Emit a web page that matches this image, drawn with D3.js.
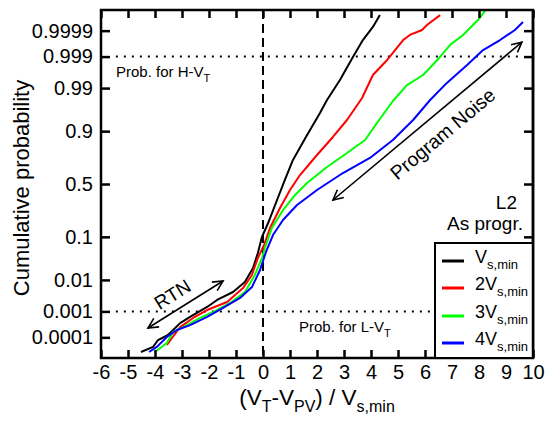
<!DOCTYPE html>
<html>
<head>
<meta charset="utf-8">
<script src="https://cdn.jsdelivr.net/npm/d3@7"></script>
<style>
  html, body { margin: 0; padding: 0; background: #fff; }
  svg { display: block; font-family: "Liberation Sans", Arial, sans-serif; }
</style>
</head>
<body>
<svg id="chart" width="559" height="422"></svg>
<script>
// ---- axis ticks ----
const xTickValues = [-6, -5, -4, -3, -2, -1, 0, 1, 2, 3, 4, 5, 6, 7, 8, 9, 10];
const probTicks = [0.0001, 0.001, 0.01, 0.1, 0.5, 0.9, 0.99, 0.999, 0.9999];
const probTickLabels = ["0.0001", "0.001", "0.01", "0.1", "0.5", "0.9", "0.99", "0.999", "0.9999"];

// ---- series: (V_T - V_PV)/V_s,min vs cumulative probability ----
const seriesPrefix = ["", "2", "3", "4"];
const seriesColors = ["#000000", "#ff0000", "#00ff00", "#0000ff"];

const v1X = [-4.52, -4.07, -3.89, -3.52, -3.07, -2.70, -2.07, -1.70, -1.11, -0.67, -0.37, -0.19, -0.04, 0.19, 0.52, 0.81, 1.11, 1.59, 2.11, 2.37, 2.85, 3.33, 3.70, 4.07, 4.33];
const v1P = [2.3e-5, 3.9e-5, 7.7e-5, 1.25e-4, 3.7e-4, 6.3e-4, 1.43e-3, 2.46e-3, 4.4e-3, 8.7e-3, 0.0208, 0.0471, 0.0994, 0.172, 0.349, 0.539, 0.720, 0.873, 0.9575, 0.9792, 0.99417, 0.99897, 0.99976, 0.99993, 0.999979];

const v2X = [-3.56, -3.37, -3.07, -2.59, -2.07, -1.33, -0.74, -0.41, -0.19, 0.04, 0.26, 0.63, 1.00, 1.37, 2.00, 2.59, 3.11, 3.67, 4.07, 4.59, 4.81, 5.19, 5.44, 5.89, 6.07, 6.56];
const v2P = [4.7e-5, 9.4e-5, 2.6e-4, 5.8e-4, 1.12e-3, 2.1e-3, 5.8e-3, 0.0137, 0.0363, 0.0694, 0.143, 0.280, 0.442, 0.586, 0.759, 0.873, 0.9397, 0.9815, 0.9959, 0.99866, 0.99926, 0.99976, 0.99985, 0.999906, 0.999942, 0.999979];

const v3X = [-4.00, -3.56, -3.33, -2.81, -2.33, -1.85, -1.22, -0.67, -0.30, -0.04, 0.07, 0.33, 0.74, 1.19, 1.63, 2.37, 3.11, 3.78, 4.30, 4.81, 5.33, 5.93, 6.56, 6.93, 7.41, 7.96, 8.30];
const v3P = [2.3e-5, 5.8e-5, 1.65e-4, 3.1e-4, 5.8e-4, 9.5e-4, 1.95e-3, 4.4e-3, 0.0137, 0.0363, 0.0604, 0.143, 0.264, 0.395, 0.510, 0.660, 0.774, 0.857, 0.9397, 0.9779, 0.9918, 0.9959, 0.99897, 0.99963, 0.99985, 0.999965, 0.99999];

const v4X = [-4.22, -3.93, -3.56, -3.19, -2.70, -2.07, -1.48, -0.85, -0.41, -0.11, 0.11, 0.37, 0.74, 1.26, 2.00, 2.96, 3.96, 4.81, 5.56, 6.19, 6.81, 7.56, 8.15, 8.78, 9.33, 9.63];
const v4P = [2.3e-5, 3.9e-5, 1.03e-4, 2.0e-4, 3.1e-4, 6.3e-4, 1.34e-3, 2.85e-3, 6.2e-3, 0.0185, 0.0496, 0.108, 0.191, 0.305, 0.442, 0.605, 0.736, 0.857, 0.9397, 0.9792, 0.9929, 0.99805, 0.99942, 0.99976, 0.999906, 0.999957];

const seriesX = [v1X, v2X, v3X, v4X];
const seriesP = [v1P, v2P, v3P, v4P];

// reference probability levels (dotted guides)
const highLevel = 0.999;
const lowLevel = 0.001;

// inverse standard normal CDF (Acklam's rational approximation)
function probit(p) {
  const a = [-3.969683028665376e+01, 2.209460984245205e+02, -2.759285104469687e+02, 1.383577518672690e+02, -3.066479806614716e+01, 2.506628277459239e+00];
  const b = [-5.447609879822406e+01, 1.615858368580409e+02, -1.556989798598866e+02, 6.680131188771972e+01, -1.328068155288572e+01];
  const c = [-7.784894002430293e-03, -3.223964580411365e-01, -2.400758277161838e+00, -2.549671010366296e+00, 4.374664141464968e+00, 2.938163982698783e+00];
  const d = [7.784695709041462e-03, 3.224671290700398e-01, 2.445134137142996e+00, 3.754408661907416e+00];
  const pl = 0.02425;
  let q, r;
  if (p < pl) {
    q = Math.sqrt(-2 * Math.log(p));
    return (((((c[0]*q+c[1])*q+c[2])*q+c[3])*q+c[4])*q+c[5]) / ((((d[0]*q+d[1])*q+d[2])*q+d[3])*q+1);
  }
  if (p > 1 - pl) {
    q = Math.sqrt(-2 * Math.log(1 - p));
    return -(((((c[0]*q+c[1])*q+c[2])*q+c[3])*q+c[4])*q+c[5]) / ((((d[0]*q+d[1])*q+d[2])*q+d[3])*q+1);
  }
  q = p - 0.5; r = q * q;
  return (((((a[0]*r+a[1])*r+a[2])*r+a[3])*r+a[4])*r+a[5])*q / (((((b[0]*r+b[1])*r+b[2])*r+b[3])*r+b[4])*r+1);
}

// ---- layout ----
const L = 101, R = 533, T = 10, B = 358;
const svg = d3.select("#chart");

const x = d3.scaleLinear().domain([-6, 10]).range([L, R]);
const z = d3.scaleLinear().domain([-4.22, 4.22]).range([B, T]);
const yP = p => z(probit(p));

const defs = svg.append("defs");
defs.append("clipPath").attr("id", "plotClip")
  .append("rect").attr("x", L).attr("y", T).attr("width", R - L).attr("height", B - T);

defs.append("marker")
  .attr("id", "head")
  .attr("viewBox", "-12 -7 14 14")
  .attr("refX", 0).attr("refY", 0)
  .attr("markerWidth", 14).attr("markerHeight", 14)
  .attr("markerUnits", "userSpaceOnUse")
  .attr("orient", "auto-start-reverse")
  .append("path")
  .attr("d", "M-10,-5 L0,0 L-10,5")
  .attr("fill", "none").attr("stroke", "#000").attr("stroke-width", 1.6);

// ---- guides ----
svg.append("line")
  .attr("x1", x(0)).attr("x2", x(0)).attr("y1", T).attr("y2", B)
  .attr("stroke", "#000").attr("stroke-width", 2).attr("stroke-dasharray", "9,5");

[highLevel, lowLevel].forEach(lv => {
  svg.append("line")
    .attr("x1", x(-5.45)).attr("x2", x(9.6))
    .attr("y1", yP(lv)).attr("y2", yP(lv))
    .attr("stroke", "#000").attr("stroke-width", 2).attr("stroke-dasharray", "2,6");
});

// ---- curves ----
const line = d3.line().x(d => x(d[0])).y(d => yP(d[1]));
const curves = svg.append("g").attr("clip-path", "url(#plotClip)");
seriesX.forEach((xs, i) => {
  const pts = xs.map((v, k) => [v, seriesP[i][k]]);
  curves.append("path")
    .attr("d", line(pts))
    .attr("fill", "none")
    .attr("stroke", seriesColors[i])
    .attr("stroke-width", 2)
    .attr("stroke-linejoin", "round");
});

// ---- axes ----
const tickFont = 20;
function styleAxis(g) {
  g.select(".domain").remove();
  g.selectAll(".tick line").attr("stroke", "#000").attr("stroke-width", 2.5);
  g.selectAll(".tick text").attr("fill", "#000").attr("font-size", tickFont)
    .attr("font-family", "'Liberation Sans', Arial, sans-serif");
}

svg.append("g").attr("transform", `translate(0,${B})`)
  .call(d3.axisBottom(x).tickValues(xTickValues).tickFormat(d => String(d))
    .tickSizeInner(-8).tickSizeOuter(0).tickPadding(7))
  .call(styleAxis);

svg.append("g").attr("transform", `translate(0,${T})`)
  .call(d3.axisTop(x).tickValues(xTickValues).tickFormat("")
    .tickSizeInner(-8).tickSizeOuter(0))
  .call(styleAxis);

svg.append("g").attr("transform", `translate(${L},0)`)
  .call(d3.axisLeft(z).tickValues(probTicks.map(probit)).tickFormat((d, i) => probTickLabels[i])
    .tickSizeInner(-9).tickSizeOuter(0).tickPadding(8))
  .call(styleAxis);

svg.append("g").attr("transform", `translate(${R},0)`)
  .call(d3.axisRight(z).tickValues(probTicks.map(probit)).tickFormat("")
    .tickSizeInner(-9).tickSizeOuter(0))
  .call(styleAxis);

// frame
svg.append("rect")
  .attr("x", L).attr("y", T).attr("width", R - L).attr("height", B - T)
  .attr("fill", "none").attr("stroke", "#000").attr("stroke-width", 2.5);

// ---- axis titles ----
const xt = svg.append("text")
  .attr("x", (L + R) / 2).attr("y", 405)
  .attr("text-anchor", "middle").attr("font-size", 22.5).attr("fill", "#000");
xt.append("tspan").text("(V");
xt.append("tspan").attr("font-size", 16).attr("dy", 7).text("T");
xt.append("tspan").attr("dy", -7).text("-V");
xt.append("tspan").attr("font-size", 16).attr("dy", 7).text("PV");
xt.append("tspan").attr("dy", -7).text(") / V");
xt.append("tspan").attr("font-size", 16).attr("dy", 7).text("s,min");

svg.append("text")
  .attr("transform", "translate(29,188) rotate(-90)")
  .attr("text-anchor", "middle").attr("font-size", 22).attr("fill", "#000")
  .text("Cumulative probability");

// ---- annotations ----
function subText(xp, yp, main, sub, size, subSize, shift, anchor) {
  const t = svg.append("text").attr("x", xp).attr("y", yp)
    .attr("font-size", size).attr("fill", "#000").attr("text-anchor", anchor || "start");
  t.append("tspan").text(main);
  t.append("tspan").attr("font-size", subSize).attr("dy", shift).text(sub);
  return t;
}
subText(116, 77, "Prob. for H-V", "T", 15, 11, 5);
subText(299, 332, "Prob. for L-V", "T", 15, 11, 5);

svg.append("text").attr("x", 517).attr("y", 209).attr("text-anchor", "end")
  .attr("font-size", 19).attr("fill", "#000").text("L2");
svg.append("text").attr("x", 523).attr("y", 230).attr("text-anchor", "end")
  .attr("font-size", 19).attr("fill", "#000").text("As progr.");

// double-headed arrows
const arrows = [
  { from: [-4.26, 2.4e-4], to: [-1.48, 0.0093] },
  { from: [2.59, 0.349], to: [9.59, 0.99971] }
];
arrows.forEach(a => {
  svg.append("line")
    .attr("x1", x(a.from[0])).attr("y1", yP(a.from[1]))
    .attr("x2", x(a.to[0])).attr("y2", yP(a.to[1]))
    .attr("stroke", "#000").attr("stroke-width", 1.6)
    .attr("marker-start", "url(#head)").attr("marker-end", "url(#head)");
});

svg.append("text").attr("transform", "translate(176,300) rotate(-32)")
  .attr("text-anchor", "middle").attr("font-size", 19).attr("fill", "#000").text("RTN");
svg.append("text").attr("transform", "translate(447,139) rotate(-40)")
  .attr("text-anchor", "middle").attr("font-size", 19.5).attr("fill", "#000").text("Program Noise");

// ---- legend ----
const lg = svg.append("g");
lg.append("rect").attr("x", 435).attr("y", 243).attr("width", R - 435).attr("height", B - 243)
  .attr("fill", "#fff").attr("stroke", "#000").attr("stroke-width", 2);
const legendY = [261, 288, 316, 343];
seriesPrefix.forEach((pre, i) => {
  lg.append("line").attr("x1", 442).attr("x2", 464)
    .attr("y1", legendY[i]).attr("y2", legendY[i])
    .attr("stroke", seriesColors[i]).attr("stroke-width", 3);
  const t = lg.append("text").attr("x", 475).attr("y", legendY[i] + 2)
    .attr("font-size", 18).attr("fill", "#000");
  t.append("tspan").text(pre + "V");
  t.append("tspan").attr("font-size", 13).attr("dy", 6).text("s,min");
});
// frame edge over the legend
svg.append("line").attr("x1", R).attr("x2", R).attr("y1", T).attr("y2", B)
  .attr("stroke", "#000").attr("stroke-width", 2.5);
</script>
</body>
</html>
